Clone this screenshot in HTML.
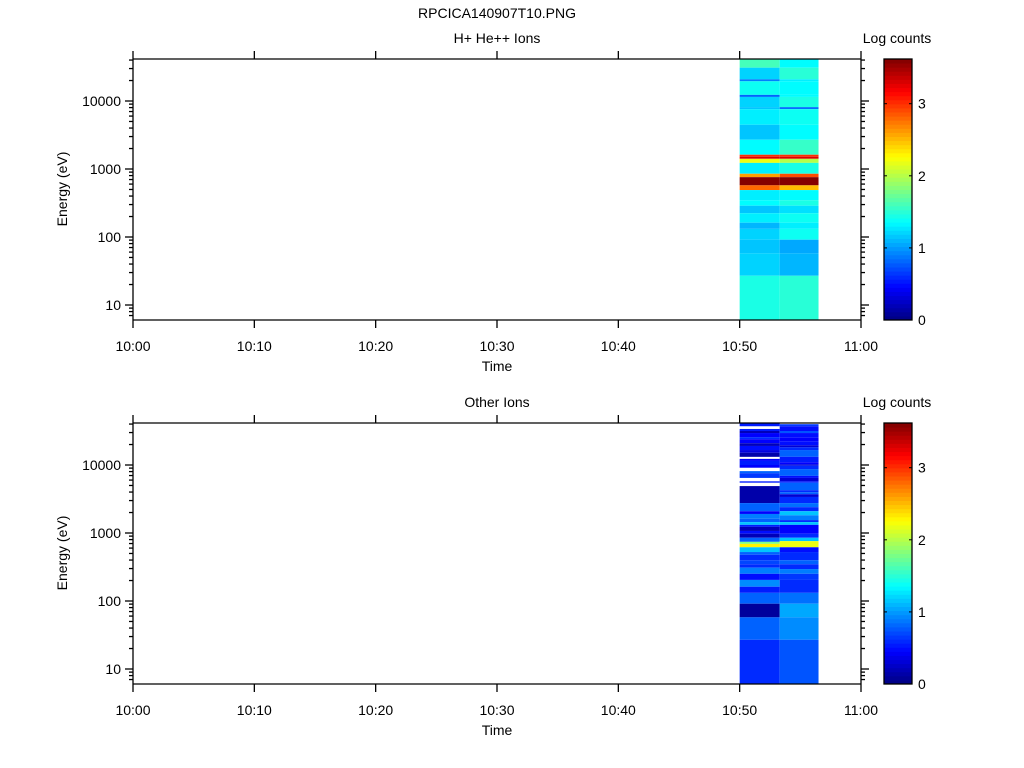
<!DOCTYPE html>
<html><head><meta charset="utf-8"><style>
body{margin:0;background:#fff;}
svg{display:block;font-family:"Liberation Sans",sans-serif;}
</style></head><body>
<svg id="chart" width="1024" height="768" viewBox="0 0 1024 768"></svg>
<script>
// ---- data ----
const timeEdges = [50, 53.3, 56.5]; // minutes after 10:00
const topEdges = [4.62,4.49,4.32,4.29,4.09,4.06,3.91,3.88,3.65,3.43,3.21,3.18,3.15,3.09,2.93,2.88,2.76,2.69,2.54,2.46,2.35,2.21,2.12,1.96,1.76,1.43,0.78];
const topCol1 = [1.6,1.2,0.9,1.4,0.8,1.2,1.15,1.3,1.15,1.35,3.0,3.3,2.2,1.3,2.6,3.6,2.8,1.3,1.35,1.15,1.3,1.1,1.2,1.15,1.2,1.45];
const topCol2 = [1.35,1.5,1.3,1.35,1.35,1.45,0.85,1.4,1.35,1.55,3.0,3.3,2.0,1.45,2.9,3.6,2.5,1.35,1.45,1.25,1.4,1.3,1.4,1.05,1.1,1.5];
const botEdges1 = [4.62,4.57,4.53,4.50,4.47,4.41,4.38,4.32,4.28,4.22,4.18,4.12,4.09,4.06,4.00,3.96,3.91,3.88,3.81,3.76,3.74,3.69,3.44,3.32,3.28,3.21,3.16,3.12,3.09,3.03,2.99,2.93,2.87,2.84,2.79,2.72,2.68,2.60,2.54,2.49,2.40,2.31,2.21,2.12,1.96,1.76,1.43,0.78];
const botCol1 = [0.55,null,0.55,0.2,0.45,0.6,0.45,0.2,0.5,0.35,0.15,null,0.45,0.55,0.45,null,0.8,0.65,null,0.55,null,0.15,0.8,0.45,0.9,0.8,1.15,0.55,0.2,0.5,0.2,0.8,1.8,2.3,1.15,0.8,0.6,0.7,0.6,0.9,0.5,0.95,0.55,0.8,0.1,0.8,0.6];
const botEdges2 = [4.60,4.57,4.50,4.47,4.40,4.35,4.29,4.26,4.22,4.12,4.04,4.01,3.99,3.94,3.84,3.81,3.76,3.74,3.63,3.60,3.57,3.53,3.44,3.38,3.32,3.26,3.19,3.16,3.12,2.99,2.93,2.88,2.79,2.72,2.60,2.54,2.47,2.40,2.31,2.12,1.96,1.76,1.43,0.78];
const botCol2 = [0.65,0.5,0.75,0.5,0.45,0.5,0.3,0.6,0.8,0.55,0.45,0.3,0.6,0.8,0.5,0.3,0.55,0.8,0.6,0.8,0.3,0.6,0.85,0.6,1.15,0.9,0.6,1.15,0.45,0.6,1.15,2.2,0.5,0.6,0.8,0.6,0.9,0.65,0.6,0.85,1.05,0.95,0.75];
const xTickLabels = ["10:00","10:10","10:20","10:30","10:40","10:50","11:00"];
const yTickLabels = ["10","100","1000","10000"];
const cbTickLabels = ["0","1","2","3"];
const VMAX = 3.62;

// ---- helpers ----
const NS="http://www.w3.org/2000/svg";
const svg=document.getElementById('chart');
function mk(tag,attrs,parent){const e=document.createElementNS(NS,tag);for(const k in attrs)e.setAttribute(k,attrs[k]);(parent||svg).appendChild(e);return e;}
function jet(v){let t=Math.max(0,Math.min(1,v/VMAX));
 const r=Math.min(1,Math.max(0,Math.min(4*t-1.5,-4*t+4.5)));
 const g=Math.min(1,Math.max(0,Math.min(4*t-0.5,-4*t+3.5)));
 const b=Math.min(1,Math.max(0,Math.min(4*t+0.5,-4*t+2.5)));
 return `rgb(${Math.round(r*255)},${Math.round(g*255)},${Math.round(b*255)})`;}

const X0=133,X1=861;
const xs=m=>X0+(X1-X0)*m/60;

function panel(top,title,cols){
 const bottom=top+261;
 const y10=top+246; // y of 10 eV
 const ys=le=>y10-(le-1)*68;
 const g=mk('g',{});
 
 
 cols.forEach((c,ci)=>{
  c.vals.forEach((v,i)=>{
   if(v===null)return;
   const r=mk('rect',{x:xs(timeEdges[ci]),y:ys(c.edges[i]),width:xs(timeEdges[ci+1])-xs(timeEdges[ci]),height:ys(c.edges[i+1])-ys(c.edges[i]),fill:jet(v)},g);
   
   
  });
 });
 const ax=mk('g',{stroke:'#000','stroke-width':1.3,fill:'none'},g);
 
 
 mk('line',{x1:X0,y1:top,x2:X1,y2:top},ax);
 mk('line',{x1:X0,y1:bottom,x2:X1,y2:bottom},ax);
 mk('line',{x1:X0,y1:top,x2:X0,y2:bottom},ax);
 mk('line',{x1:X1,y1:top,x2:X1,y2:bottom},ax);
 xTickLabels.forEach((l,i)=>{
  const x=xs(i*10);
  mk('line',{x1:x,y1:top,x2:x,y2:top-8},ax);
  mk('line',{x1:x,y1:bottom,x2:x,y2:bottom+8},ax);
  const t=mk('text',{x:x,y:bottom+31,'text-anchor':'middle','font-size':14,fill:'#000'},g);t.textContent=l;
  
  
 });
 for(let d=0;d<=4;d++){
  for(let k=1;k<10;k++){
   const le=d+Math.log10(k);
   const y=ys(le);
   if(y<top||y>bottom)continue;
   const len=k===1?8:4;
   mk('line',{x1:X0,y1:y,x2:X0-len,y2:y},ax);
   mk('line',{x1:X1,y1:y,x2:X1+len,y2:y},ax);
  }
 }
 yTickLabels.forEach((l,i)=>{
  const t=mk('text',{x:X0-12,y:ys(i+1)+5,'text-anchor':'end','font-size':14,fill:'#000'},g);t.textContent=l;
  
  
 });
 let t=mk('text',{x:497,y:top-16,'text-anchor':'middle','font-size':14},g);t.textContent=title;
 
 
 t=mk('text',{x:497,y:bottom+51,'text-anchor':'middle','font-size':14},g);t.textContent='Time';
 
 
 t=mk('text',{x:0,y:0,'text-anchor':'middle','font-size':14,transform:`translate(67,${top+130}) rotate(-90)`},g);t.textContent='Energy (eV)';
 
 
 // colorbar
 const cb=mk('g',{},g);
 
 
 const n=64,cx=884,cw=28,ch=bottom-top;
 for(let i=0;i<n;i++){
  mk('rect',{x:cx,y:bottom-(i+1)*ch/n,width:cw,height:ch/n+0.5,fill:jet((i+0.5)/n*VMAX)},cb);
 }
 mk('rect',{x:cx,y:top,width:cw,height:ch,fill:'none',stroke:'#000','stroke-width':1.3},cb);
 cbTickLabels.forEach((l,i)=>{
  const y=bottom-i*ch/VMAX;
  mk('line',{x1:cx,y1:y,x2:cx+3,y2:y,stroke:'#000'},cb);
  mk('line',{x1:cx+cw,y1:y,x2:cx+cw-3,y2:y,stroke:'#000'},cb);
  const tt=mk('text',{x:cx+cw+6,y:y+5,'font-size':14},cb);tt.textContent=l;
  
  
 });
 t=mk('text',{x:897,y:top-16,'text-anchor':'middle','font-size':14},cb);t.textContent='Log counts';
 
 
}
const mt=mk('text',{x:497,y:18,'text-anchor':'middle','font-size':14});mt.textContent='RPCICA140907T10.PNG';


panel(59,'H+ He++ Ions',[{edges:topEdges,vals:topCol1},{edges:topEdges,vals:topCol2}]);
panel(423,'Other Ions',[{edges:botEdges1,vals:botCol1},{edges:botEdges2,vals:botCol2}]);
</script>
</body></html>
